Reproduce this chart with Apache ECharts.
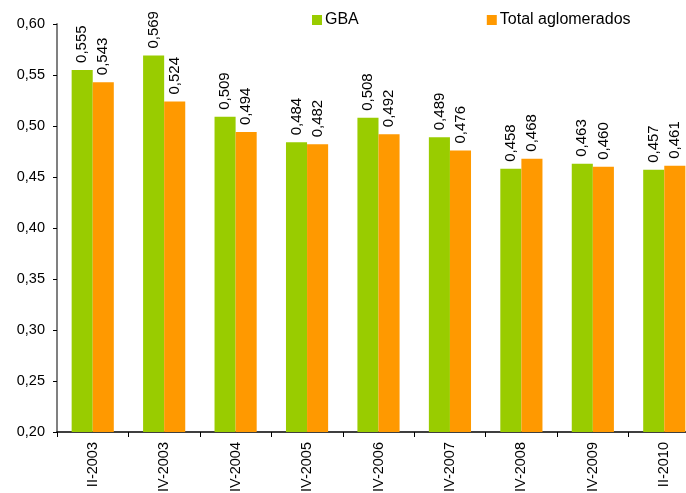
<!DOCTYPE html>
<html>
<head>
<meta charset="utf-8">
<script src="https://cdn.jsdelivr.net/npm/echarts@6/dist/echarts.min.js"></script>
<style>
  html, body { margin: 0; padding: 0; background: #fff; }
  #chart { width: 686px; height: 493px; }
</style>
</head>
<body>
<div id="chart"></div>
<script>
// Periods on the horizontal axis
const periods = ['II-2003', 'IV-2003', 'IV-2004', 'IV-2005', 'IV-2006', 'IV-2007', 'IV-2008', 'IV-2009', 'II-2010'];
// Values per region
const gba = [0.555, 0.569, 0.509, 0.484, 0.508, 0.489, 0.458, 0.463, 0.457];
const totalAglomerados = [0.543, 0.524, 0.494, 0.482, 0.492, 0.476, 0.468, 0.460, 0.461];
const seriesNames = ['GBA', 'Total aglomerados'];

const FONT = 'Liberation Sans, Arial, sans-serif';
const comma = (v, d) => v.toFixed(d).replace('.', ',');

const chart = echarts.init(document.getElementById('chart'));

function barSeries(name, data, color) {
  return {
    name: name,
    type: 'bar',
    data: data,
    barGap: '0%',
    barCategoryGap: '41%',
    itemStyle: { color: color },
    label: {
      show: true,
      position: 'top',
      rotate: 90,
      align: 'left',
      verticalAlign: 'middle',
      distance: 6,
      offset: [1, 0],
      fontFamily: FONT,
      fontSize: 15,
      color: '#000',
      formatter: p => comma(p.value, 3)
    }
  };
}

chart.setOption({
  animation: false,
  textStyle: { fontFamily: FONT },
  legend: {
    data: seriesNames,
    left: 312,
    top: 12,
    padding: 0,
    itemWidth: 10,
    itemHeight: 10,
    itemGap: 128,
    icon: 'rect',
    textStyle: { fontFamily: FONT, fontSize: 16, color: '#000', padding: [0, 0, 0, -2] }
  },
  // the last category runs slightly past the right edge of the page
  grid: { left: 57, top: 24, width: 643, height: 408, outerBoundsMode: 'none', containLabel: false },
  xAxis: {
    type: 'category',
    data: periods,
    axisLine: { lineStyle: { color: '#000', width: 1.5 } },
    axisTick: { show: true, length: 5, lineStyle: { color: '#000' } },
    axisLabel: {
      rotate: 90,
      margin: 10,
      fontFamily: FONT,
      fontSize: 14.5,
      color: '#000'
    }
  },
  yAxis: {
    type: 'value',
    min: 0.2,
    max: 0.6,
    interval: 0.05,
    splitLine: { show: false },
    axisLine: { show: true, lineStyle: { color: '#808080', width: 2 } },
    axisTick: { show: true, length: 4, lineStyle: { color: '#000' } },
    axisLabel: {
      margin: 12,
      fontFamily: FONT,
      fontSize: 14.5,
      color: '#000',
      formatter: v => comma(v, 2)
    }
  },
  series: [
    barSeries(seriesNames[0], gba, '#99cc00'),
    barSeries(seriesNames[1], totalAglomerados, '#ff9900')
  ]
});
</script>
</body>
</html>
